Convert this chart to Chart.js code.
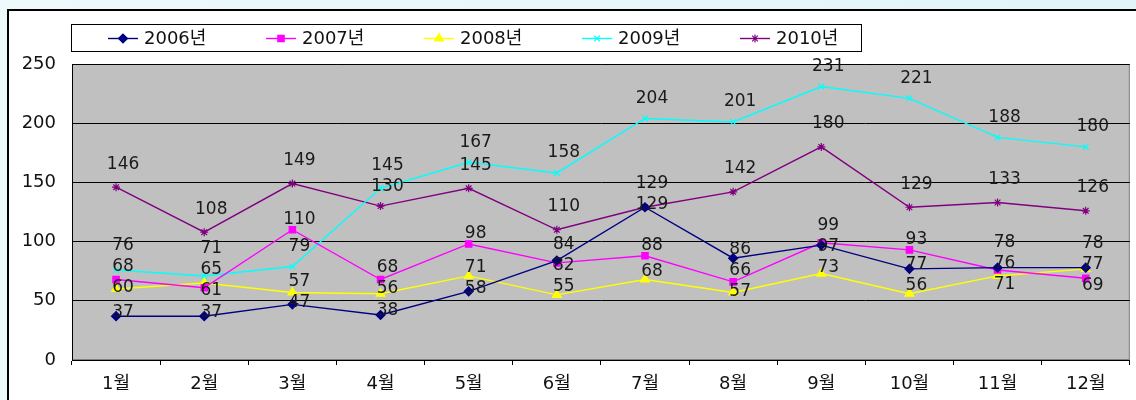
<!DOCTYPE html>
<html>
<head>
<meta charset="utf-8">
<script src="https://cdn.jsdelivr.net/npm/chart.js@4/dist/chart.umd.min.js"></script>
<style>
  html, body { margin: 0; padding: 0; background: #eaf7fb; }
  #wrap { width: 1136px; height: 400px; position: relative; }
</style>
</head>
<body>
<div id="wrap"><canvas id="c" width="1136" height="400"></canvas></div>
<script>
const categories = ['1월','2월','3월','4월','5월','6월','7월','8월','9월','10월','11월','12월'];
const seriesNames = ['2006년','2007년','2008년','2009년','2010년'];
const s2006 = [37, 37, 47, 38, 58, 84, 129, 86, 97, 77, 78, 78];
const s2007 = [68, 61, 110, 68, 98, 82, 88, 66, 99, 93, 76, 69];
const s2008 = [60, 65, 57, 56, 71, 55, 68, 57, 73, 56, 71, 77];
const s2009 = [76, 71, 79, 145, 167, 158, 204, 201, 231, 221, 188, 180];
const s2010 = [146, 108, 149, 130, 145, 110, 129, 142, 180, 129, 133, 126];
const yMin = 0, yMax = 250, yStep = 50;

const FONT = "'DejaVu Sans', 'Noto Sans CJK KR', sans-serif";

const styles = [
  { color: '#000080', pointStyle: 'rectRot', radius: 4.5, labelOffset: -4 },
  { color: '#ff00ff', pointStyle: 'rect', radius: 4.5, labelOffset: -10 },
  { color: '#ffff00', pointStyle: 'triangle', radius: 5, labelOffset: -8 },
  { color: '#00ffff', pointStyle: 'crossRot', radius: 4, labelOffset: -20 },
  { color: '#800080', pointStyle: 'star', radius: 4, labelOffset: -23 }
];
const allSeries = [s2006, s2007, s2008, s2009, s2010];

const datasets = allSeries.map((vals, i) => ({
  label: seriesNames[i],
  data: vals,
  borderColor: styles[i].color,
  backgroundColor: styles[i].color,
  pointBackgroundColor: styles[i].color,
  pointBorderColor: styles[i].color,
  pointStyle: styles[i].pointStyle,
  pointRadius: styles[i].radius,
  pointBorderWidth: 1.2,
  borderWidth: 1.4,
  tension: 0,
  labelOffset: styles[i].labelOffset
}));

const bgPlugin = {
  id: 'bg',
  beforeDraw(chart) {
    const ctx = chart.ctx;
    const a = chart.chartArea;
    ctx.save();
    const g = ctx.createLinearGradient(0, 0, 1136, 0);
    g.addColorStop(0, '#eef9fc');
    g.addColorStop(1, '#e2f4f8');
    ctx.fillStyle = g;
    ctx.fillRect(0, 0, chart.width, chart.height);
    ctx.fillStyle = '#ffffff';
    ctx.fillRect(7, 9, chart.width - 7, chart.height - 9);
    ctx.strokeStyle = '#000';
    ctx.lineWidth = 2;
    ctx.beginPath();
    ctx.moveTo(8, chart.height);
    ctx.lineTo(8, 10);
    ctx.lineTo(chart.width, 10);
    ctx.stroke();
    ctx.fillStyle = '#c0c0c0';
    ctx.fillRect(a.left, a.top, a.right - a.left, a.bottom - a.top);
    ctx.strokeStyle = '#808080';
    ctx.lineWidth = 1;
    ctx.strokeRect(a.left + 0.5, a.top + 0.5, a.right - a.left - 1, a.bottom - a.top - 1);
    ctx.restore();
  }
};

function drawMarker(ctx, style, x, y, color) {
  ctx.save();
  ctx.fillStyle = color;
  ctx.strokeStyle = color;
  ctx.lineWidth = 1.2;
  if (Chart.helpers && Chart.helpers.drawPoint) {
    Chart.helpers.drawPoint(ctx, { pointStyle: style.pointStyle, radius: style.radius, rotation: 0, borderWidth: 1.2 }, x, y);
  } else {
    ctx.fillRect(x - 4, y - 4, 8, 8);
  }
  ctx.restore();
}

const legendPlugin = {
  id: 'customLegend',
  afterDraw(chart) {
    const ctx = chart.ctx;
    ctx.save();
    ctx.fillStyle = '#fff';
    ctx.fillRect(71, 24, 790, 27);
    ctx.strokeStyle = '#000';
    ctx.lineWidth = 1;
    ctx.strokeRect(71.5, 24.5, 790, 27);
    const y = 38;
    chart.data.datasets.forEach((ds, i) => {
      const x0 = 108 + i * 158;
      ctx.strokeStyle = ds.borderColor;
      ctx.lineWidth = 1.4;
      ctx.beginPath();
      ctx.moveTo(x0, y + 0.5);
      ctx.lineTo(x0 + 30, y + 0.5);
      ctx.stroke();
      drawMarker(ctx, styles[i], x0 + 15, y + 0.5, ds.borderColor);
      ctx.fillStyle = '#111';
      ctx.font = '18px ' + FONT;
      ctx.textAlign = 'left';
      ctx.textBaseline = 'middle';
      ctx.fillText(ds.label, x0 + 36, y + 1);
    });
    ctx.restore();
  }
};

// data labels placed above points, nudged apart within each category so they don't overlap
const labelPlugin = {
  id: 'dataLabels',
  afterDatasetsDraw(chart) {
    const ctx = chart.ctx;
    const GAP = 21;
    ctx.save();
    ctx.font = '17px ' + FONT;
    ctx.fillStyle = '#1a1a1a';
    ctx.textAlign = 'center';
    ctx.textBaseline = 'middle';
    const n = chart.data.labels.length;
    for (let j = 0; j < n; j++) {
      const items = [];
      chart.data.datasets.forEach((ds, i) => {
        const pt = chart.getDatasetMeta(i).data[j];
        items.push({ text: String(ds.data[j]), x: pt.x, py: pt.y, y: pt.y + ds.labelOffset, idx: i });
      });
      items.sort((a, b) => (a.py - b.py) || (a.idx - b.idx));
      for (let it = 0; it < 60; it++) {
        for (let k = 0; k < items.length - 1; k++) {
          const a = items[k], b = items[k + 1];
          const d = b.y - a.y;
          if (d < GAP) {
            const m = (GAP - d) / 2;
            a.y -= m; b.y += m;
          }
        }
      }
      items.forEach(o => ctx.fillText(o.text, o.x + 7, o.y));
    }
    ctx.restore();
  }
};

new Chart(document.getElementById('c'), {
  type: 'line',
  data: { labels: categories, datasets },
  plugins: [bgPlugin, labelPlugin, legendPlugin],
  options: {
    responsive: false,
    animation: false,
    devicePixelRatio: 1,
    layout: { padding: { top: 64, right: 4, left: 0, bottom: 0 } },
    plugins: { legend: { display: false }, tooltip: { enabled: false }, title: { display: false } },
    scales: {
      x: {
        type: 'category',
        offset: true,
        afterFit: (s) => { s.height = 40; },
        grid: { display: true, offset: true, drawOnChartArea: false, drawTicks: true, tickLength: 5, color: '#000', lineWidth: 1 },
        border: { display: true, color: '#000', width: 1 },
        ticks: { color: '#111', font: { size: 18, family: FONT }, padding: 9, maxRotation: 0, autoSkip: false }
      },
      y: {
        min: yMin,
        max: yMax,
        afterFit: (s) => { s.width = 72; },
        grid: { display: true, drawTicks: false, color: '#000', lineWidth: 1 },
        border: { display: true, color: '#000', width: 1 },
        ticks: { stepSize: yStep, color: '#111', font: { size: 18, family: FONT }, padding: 16 }
      }
    }
  }
});
</script>
</body>
</html>
